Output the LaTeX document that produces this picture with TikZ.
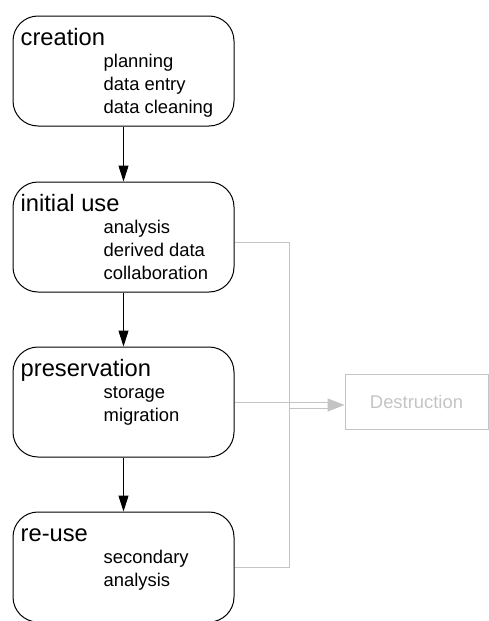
\documentclass[tikz,border=0pt]{standalone}
\usepackage{fontspec}
\setmainfont{Liberation Sans}
\usetikzlibrary{positioning, arrows.meta}
\definecolor{fade}{HTML}{C4C4C4}
\tikzset{
  stage/.style={draw, rounded corners=25pt, line width=1pt, minimum width=221pt, minimum height=110pt, inner sep=0pt},
  stagetitle/.style={anchor=base west, inner sep=0pt, font=\fontsize{23.7}{28}\selectfont},
  stageitem/.style={anchor=base west, inner sep=0pt, font=\fontsize{18.4}{22}\selectfont},
  sink/.style={draw=fade, text=fade, line width=1pt, minimum width=143pt, minimum height=55pt, font=\fontsize{18.4}{22}\selectfont},
  flow/.style={line width=1pt, -{Triangle[length=16pt, width=10pt]}},
  feed/.style={draw=fade, line width=1pt},
}
\newcommand{\stagetext}[3]{%
  \node[stagetitle] (#1-title) at ([xshift=8pt, yshift=-29.5pt]#1.north west) {#2};
  \foreach \txt [count=\k] in {#3}
    \node[stageitem] (#1-item\k) at ([xshift=91pt, yshift=-28.5pt-23pt*\k]#1.north west) {\txt};
}
\begin{document}
\begin{tikzpicture}[x=1pt, y=-1pt]
  \clip (0,0) rectangle (489,621);
  % Define nodes
  \node[stage] (creation) at (123.5,71) {};
  \node[stage, below=55pt of creation] (initial) {};
  \node[stage, below=54pt of initial] (preservation) {};
  \node[stage, below=54pt of preservation] (reuse) {};
  \node[sink, right=110pt of preservation] (destruction) {Destruction};
  \stagetext{creation}{creation}{planning, data entry, data cleaning}
  \stagetext{initial}{initial use}{analysis, derived data, collaboration}
  \stagetext{preservation}{preservation}{storage, migration}
  \stagetext{reuse}{re-use}{secondary, analysis}
  % Main flow
  \draw[flow] (creation) -- (initial);
  \draw[flow] (initial) -- (preservation);
  \draw[flow] (preservation) -- (reuse);
  % Destruction branch
  \coordinate (bus) at ([xshift=54.5pt]preservation.east);
  \coordinate (split) at ([yshift=-3pt]bus);
  \coordinate (tip) at (split -| destruction.west);
  \draw[feed, double=white, double distance=5pt, shorten >=16pt] (split) -- (tip);
  \draw[feed, fill=fade, -{Triangle[length=17pt, width=13pt]}] ([xshift=-17pt]tip) -- (tip);
  \draw[feed] ([yshift=-5.5pt]initial.east) -| (bus |- reuse.east) -- (reuse.east);
  \draw[feed] (preservation.east) -- (bus);
\end{tikzpicture}
\end{document}
